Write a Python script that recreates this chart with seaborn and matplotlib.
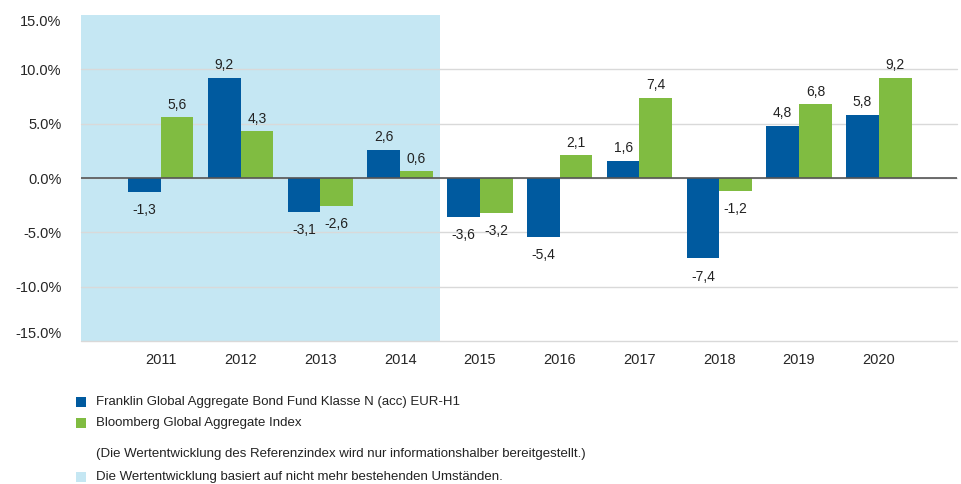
import pandas as pd
import matplotlib.pyplot as plt
import seaborn as sns
from matplotlib.patches import Rectangle

years = ["2011", "2012", "2013", "2014", "2015", "2016", "2017", "2018", "2019", "2020"]
fund = [-1.3, 9.2, -3.1, 2.6, -3.6, -5.4, 1.6, -7.4, 4.8, 5.8]
index = [5.6, 4.3, -2.6, 0.6, -3.2, 2.1, 7.4, -1.2, 6.8, 9.2]
fund_name = "Franklin Global Aggregate Bond Fund Klasse N (acc) EUR-H1"
index_name = "Bloomberg Global Aggregate Index"
note = "(Die Wertentwicklung des Referenzindex wird nur informationshalber bereitgestellt.)"
shade_note = "Die Wertentwicklung basiert auf nicht mehr bestehenden Umständen."
yticks = [-15, -10, -5, 0, 5, 10, 15]

blue = "#005a9f"
green = "#80bc41"
light = "#c5e7f3"

sns.set_style("white")
plt.rcParams["font.family"] = ["Liberation Sans Narrow", "Liberation Sans", "DejaVu Sans"]

df = pd.DataFrame({"year": years * 2,
                   "value": fund + index,
                   "series": [fund_name] * len(years) + [index_name] * len(years)})

fig = plt.figure(figsize=(9.62, 4.84), dpi=100)
ax = fig.add_axes([81 / 962, 1 - 341 / 484, 876 / 962, 326 / 484])

# shaded period (old circumstances)
ax.axvspan(-1, 3.5, color=light, zorder=0, lw=0)
for t in yticks[:-1]:
    ax.axhline(t, color="#d9d9d9", lw=1, zorder=0.5, clip_on=False)

sns.barplot(data=df, x="year", y="value", hue="series", palette=[blue, green],
            width=0.82, dodge=True, ax=ax, legend=False, zorder=2, saturation=1,
            linewidth=0, edgecolor="none")
ax.axhline(0, color="#555555", lw=1.2, zorder=3)

for cont in ax.containers:
    for bar in cont:
        h = bar.get_height()
        x = bar.get_x() + bar.get_width() / 2
        txt = f"{h:.1f}".replace(".", ",")
        if h >= 0:
            ax.annotate(txt, (x, h), xytext=(0, 4), textcoords="offset points",
                        ha="center", va="bottom", fontsize=10, color="#222222")
        else:
            ax.annotate(txt, (x, h), xytext=(0, -8), textcoords="offset points",
                        ha="center", va="top", fontsize=10, color="#222222")

ax.set_xlim(-1, 9.98)
ax.set_ylim(-15, 15)
ax.set_yticks(yticks)
labels = ax.set_yticklabels([f"{t:.1f}%" for t in yticks], fontsize=10.5)
labels[0].set_va("bottom")
labels[-1].set_va("top")
ax.tick_params(axis="x", labelsize=10.5, pad=9, length=0)
ax.tick_params(axis="y", pad=14, length=0)
ax.set_xlabel("")
ax.set_ylabel("")
for s in ax.spines.values():
    s.set_visible(False)

# legend below the chart
def legend_row(y, color, text):
    if color is not None:
        fig.patches.append(Rectangle((76 / 962, 1 - (y + 5) / 484), 10 / 962, 10 / 484,
                                     transform=fig.transFigure, color=color, lw=0))
    fig.text(96 / 962, 1 - y / 484, text, fontsize=9.5, va="center", ha="left", color="#222222")

legend_row(402, blue, fund_name)
legend_row(423, green, index_name)
legend_row(454, None, note)
legend_row(477, light, shade_note)

fig.savefig("out.png", dpi=100)
